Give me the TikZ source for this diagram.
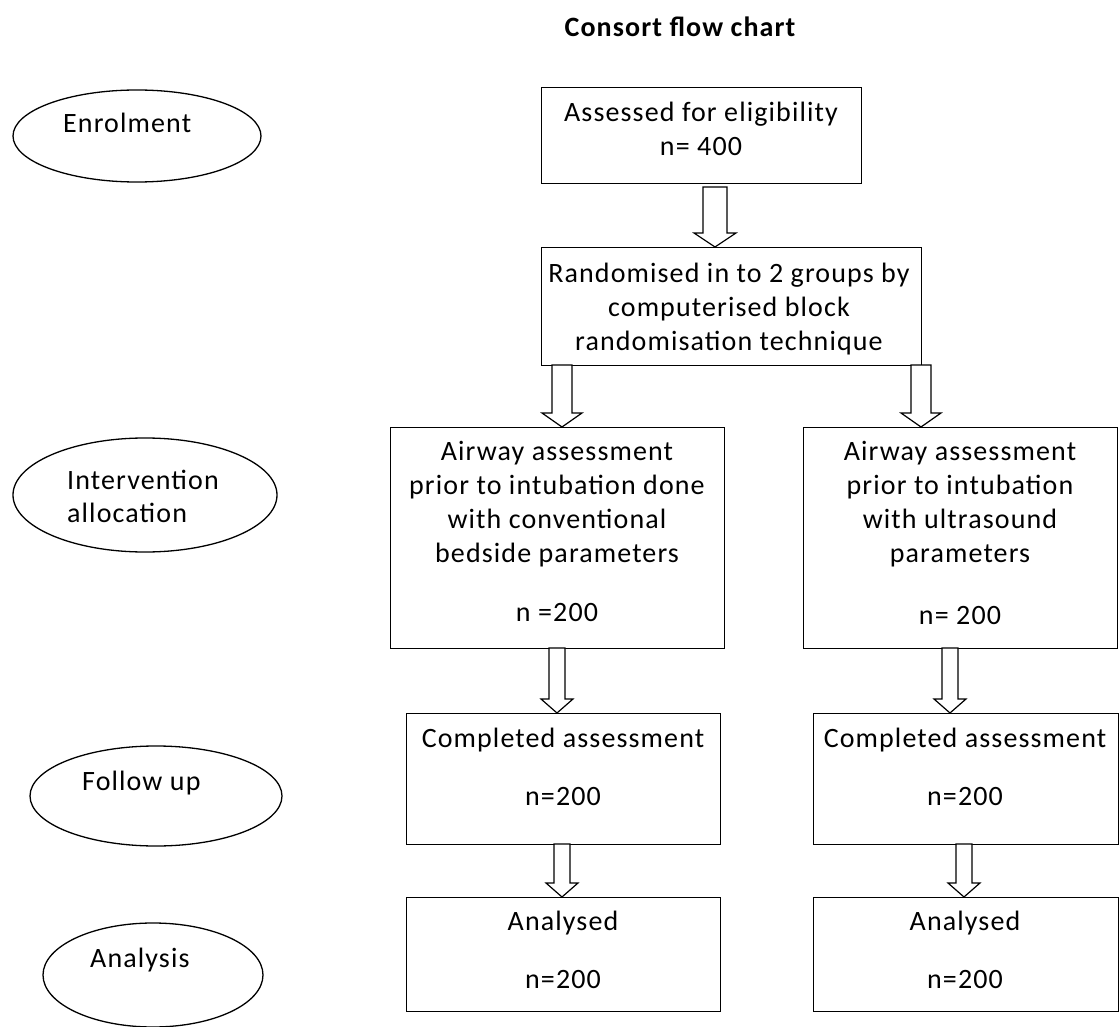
\documentclass[tikz,border=0pt]{standalone}
\usepackage{fontspec}
\setmainfont{Carlito}[LetterSpace=4]
\usetikzlibrary{shapes.geometric,calc}
\newcommand\blockarr[4]{\draw[barrow] let \p1=(#1), \p2=(#1 |- #2.north) in
  (\x1-#3,\y1) -- (\x1-#3,\y2+14pt) -- (\x1-#4,\y2+14pt) -- (\x1,\y2) --
  (\x1+#4,\y2+14pt) -- (\x1+#3,\y2+14pt) -- (\x1+#3,\y1) -- cycle;}
\begin{document}
\begin{tikzpicture}[x=1pt,y=-1pt,
  box/.style={draw,line width=1.3pt,rectangle,inner sep=0pt,anchor=north west},
  oval/.style={draw,line width=1.3pt,ellipse,inner sep=0pt},
  txt/.style={font=\fontsize{28}{34}\selectfont,align=center,inner sep=0pt,text=black},
  ltxt/.style={font=\fontsize{28}{33}\selectfont,align=left,inner sep=0pt,anchor=west,text=black},
  barrow/.style={draw,line width=1.2pt,fill=white,line join=miter}]
\useasboundingbox[fill=white] (0,0) rectangle (1120,1027);
% title
\node[txt,font=\bfseries\fontsize{28}{32}\selectfont] (title) at (680,27) {Consort flow chart};
% ellipses
\node[oval,minimum width=248pt,minimum height=92pt] (e1) at (137,136) {};
\node[ltxt] (e1t) at (63,123) {Enrolment};
\node[oval,minimum width=264pt,minimum height=114pt] (e2) at (145,495) {};
\node[ltxt] (e2t) at (67,496) {Intervention\\allocation};
\node[oval,minimum width=252pt,minimum height=100pt] (e3) at (156,796) {};
\node[ltxt] (e3t) at (82,783) {Follow up};
\node[oval,minimum width=220pt,minimum height=104pt] (e4) at (153,975) {};
\node[ltxt] (e4t) at (90,960) {Analysis};
% boxes
\node[box,minimum width=320pt,minimum height=96pt] (b1) at (541,87) {};
\node[txt] (b1t) at (701,129) {Assessed for eligibility\\n= 400};
\node[box,minimum width=380pt,minimum height=118pt] (b2) at (541,247) {};
\node[txt] (b2t) at (729,309) {Randomised in to 2 groups by\\computerised block\\randomisation technique};
\node[box,minimum width=334pt,minimum height=221pt] (b3l) at (390,427) {};
\node[txt] (b3lt) at (557,504) {Airway assessment\\prior to intubation done\\with conventional\\bedside parameters};
\node[txt] (b3ln) at (557,613) {n =200};
\node[box,minimum width=314pt,minimum height=221pt] (b3r) at (803,427) {};
\node[txt] (b3rt) at (960,504) {Airway assessment\\prior to intubation\\with ultrasound\\parameters};
\node[txt] (b3rn) at (960,616) {n= 200};
\node[box,minimum width=314pt,minimum height=131pt] (b4l) at (406,713) {};
\node[txt] (b4lt) at (563,740) {Completed assessment};
\node[txt] (b4ln) at (563,797) {n=200};
\node[box,minimum width=305pt,minimum height=131pt] (b4r) at (813,713) {};
\node[txt] (b4rt) at (965,740) {Completed assessment};
\node[txt] (b4rn) at (965,797) {n=200};
\node[box,minimum width=314pt,minimum height=114pt] (b5l) at (406,897) {};
\node[txt] (b5lt) at (563,923) {Analysed};
\node[txt] (b5ln) at (563,980) {n=200};
\node[box,minimum width=305pt,minimum height=114pt] (b5r) at (813,897) {};
\node[txt] (b5rt) at (965,923) {Analysed};
\node[txt] (b5rn) at (965,980) {n=200};
% block arrows
\coordinate (a1) at (715,187);
\coordinate (a2l) at (562,365);
\coordinate (a2r) at (921,365);
\coordinate (a3l) at (557,648);
\coordinate (a3r) at (950,648);
\coordinate (a4l) at (562,844);
\coordinate (a4r) at (964,844);
\blockarr{a1}{b2}{12pt}{21pt}
\blockarr{a2l}{b3l}{10pt}{20pt}
\blockarr{a2r}{b3r}{10pt}{20pt}
\blockarr{a3l}{b4l}{8pt}{16pt}
\blockarr{a3r}{b4r}{8pt}{16pt}
\blockarr{a4l}{b5l}{8pt}{16pt}
\blockarr{a4r}{b5r}{8pt}{16pt}
\end{tikzpicture}
\end{document}
